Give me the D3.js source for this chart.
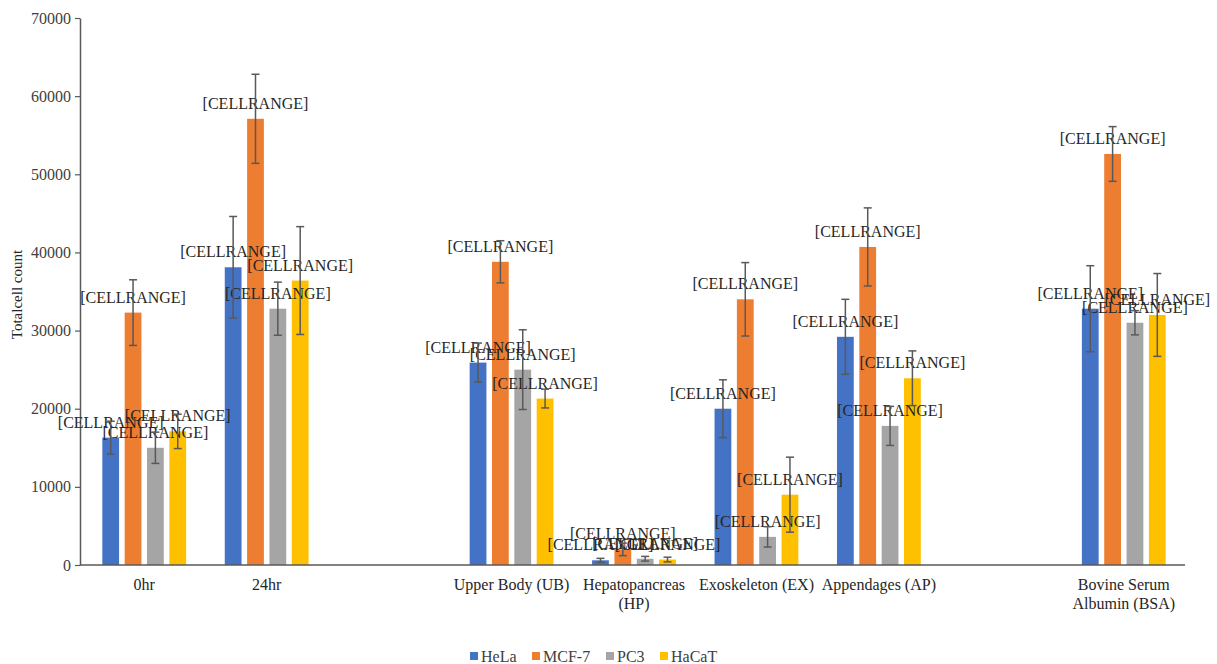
<!DOCTYPE html>
<html>
<head>
<meta charset="utf-8">
<script src="https://cdn.jsdelivr.net/npm/d3@7"></script>
<style>
  html, body { margin: 0; padding: 0; background: #fff; }
  svg { display: block; }
  text { font-family: "Liberation Serif", "Times New Roman", serif; }
</style>
</head>
<body>
<svg id="chart" width="1217" height="664"></svg>
<script>
// ---- data ----
const categories = ["0hr", "24hr", "", "Upper Body (UB)", "Hepatopancreas (HP)", "Exoskeleton (EX)", "Appendages (AP)", "", "Bovine Serum Albumin (BSA)"];
const categoryLines = [["0hr"], ["24hr"], [], ["Upper Body (UB)"], ["Hepatopancreas", "(HP)"], ["Exoskeleton (EX)"], ["Appendages (AP)"], [], ["Bovine Serum", "Albumin (BSA)"]];
const seriesNames = ["HeLa", "MCF-7", "PC3", "HaCaT"];
const helaValues  = [16300, 38100, null, 25900, 600, 20000, 29200, null, 32800];
const mcf7Values  = [32300, 57100, null, 38800, 2000, 34000, 40700, null, 52600];
const pc3Values   = [15000, 32800, null, 25000, 800, 3600, 17800, null, 31000];
const hacatValues = [17100, 36400, null, 21300, 700, 9000, 23900, null, 32000];
const helaErrors  = [2100, 6500, null, 2500, 250, 3700, 4800, null, 5500];
const mcf7Errors  = [4200, 5700, null, 2700, 800, 4700, 5000, null, 3500];
const pc3Errors   = [2000, 3400, null, 5100, 300, 1300, 2500, null, 1550];
const hacatErrors = [2200, 6900, null, 1200, 300, 4800, 3500, null, 5300];
const yTicks = [0, 10000, 20000, 30000, 40000, 50000, 60000, 70000];
const labelText = "[CELLRANGE]";
const yTitle = "Totalcell count";
const colors = ["#4472C4", "#ED7D31", "#A5A5A5", "#FFC000"];

const seriesValues = [helaValues, mcf7Values, pc3Values, hacatValues];
const seriesErrors = [helaErrors, mcf7Errors, pc3Errors, hacatErrors];

// ---- layout ----
const svg = d3.select("#chart");
const mLeft = 80, mRight = 1185, mTop = 18, mBottom = 565;

const x = d3.scaleBand().domain(d3.range(categories.length)).range([mLeft + 3, mRight]).paddingInner(0).paddingOuter(0);
const y = d3.scaleLinear().domain([0, 70000]).range([mBottom, mTop]);

const bw = x.bandwidth();
const barW = bw * 0.137;
const step = bw * 0.1825;
const groupW = step * 3 + barW;
const xs = d3.scaleLinear().domain([0, 1]).range([0, step]);

function barX(ci, si) {
  return x(ci) + bw / 2 - groupW / 2 + xs(si);
}

const rows = [];
seriesNames.forEach((s, si) => {
  categories.forEach((c, ci) => {
    const v = seriesValues[si][ci];
    if (v == null) return;
    rows.push({ si, ci, v, e: seriesErrors[si][ci] });
  });
});

// y axis
const yAxis = d3.axisLeft(y).tickValues(yTicks).tickSize(5).tickSizeOuter(0).tickFormat(d3.format("d"));
const gy = svg.append("g").attr("transform", `translate(${mLeft},0)`).call(yAxis);
gy.select(".domain").attr("stroke", "#595959").attr("stroke-width", 1.5);
gy.selectAll(".tick line").attr("stroke", "#595959").attr("stroke-width", 1.2);
gy.selectAll(".tick text").attr("fill", "#404040").style("font-size", "16px").style("font-family", "Liberation Serif, serif").attr("x", -9);

// bars
svg.append("g").selectAll("rect").data(rows).join("rect")
  .attr("x", d => barX(d.ci, d.si))
  .attr("y", d => y(d.v))
  .attr("width", barW)
  .attr("height", d => y(0) - y(d.v))
  .attr("fill", d => colors[d.si]);

// x axis line
svg.append("line")
  .attr("x1", mLeft).attr("x2", mRight)
  .attr("y1", y(0)).attr("y2", y(0))
  .attr("stroke", "#595959").attr("stroke-width", 1.5);

// x tick labels
const xl = svg.append("g");
categories.forEach((c, ci) => {
  const lines = categoryLines[ci];
  lines.forEach((ln, li) => {
    xl.append("text")
      .attr("x", x(ci) + bw / 2)
      .attr("y", mBottom + 25 + li * 19)
      .attr("text-anchor", "middle")
      .attr("fill", "#262626")
      .style("font-size", "16px")
      .text(ln);
  });
});

// data labels
svg.append("g").selectAll("text").data(rows).join("text")
  .attr("x", d => barX(d.ci, d.si) + barW / 2)
  .attr("y", d => y(d.v) - 10)
  .attr("text-anchor", "middle")
  .attr("fill", "#262626")
  .style("font-size", "16px")
  .text(labelText);

// error bars
const eg = svg.append("g").attr("stroke", "#595959").attr("stroke-width", 1.5);
rows.forEach(d => {
  const cx = barX(d.ci, d.si) + barW / 2;
  const y1 = y(d.v + d.e), y2 = y(Math.max(0, d.v - d.e));
  eg.append("line").attr("x1", cx).attr("x2", cx).attr("y1", y1).attr("y2", y2);
  eg.append("line").attr("x1", cx - 4).attr("x2", cx + 4).attr("y1", y1).attr("y2", y1);
  eg.append("line").attr("x1", cx - 4).attr("x2", cx + 4).attr("y1", y2).attr("y2", y2);
});

// y axis title
svg.append("text")
  .attr("transform", `translate(22,${(mTop + mBottom) / 2 + 3}) rotate(-90)`)
  .attr("text-anchor", "middle")
  .attr("fill", "#262626")
  .style("font-size", "15px")
  .text(yTitle);

// legend
const legendX = [470, 532, 606, 660];
const lg = svg.append("g");
seriesNames.forEach((s, si) => {
  lg.append("rect").attr("x", legendX[si]).attr("y", 652).attr("width", 8).attr("height", 8).attr("fill", colors[si]);
  lg.append("text").attr("x", legendX[si] + 11).attr("y", 662).attr("fill", "#404040").style("font-size", "16px").text(s);
});
</script>
</body>
</html>
